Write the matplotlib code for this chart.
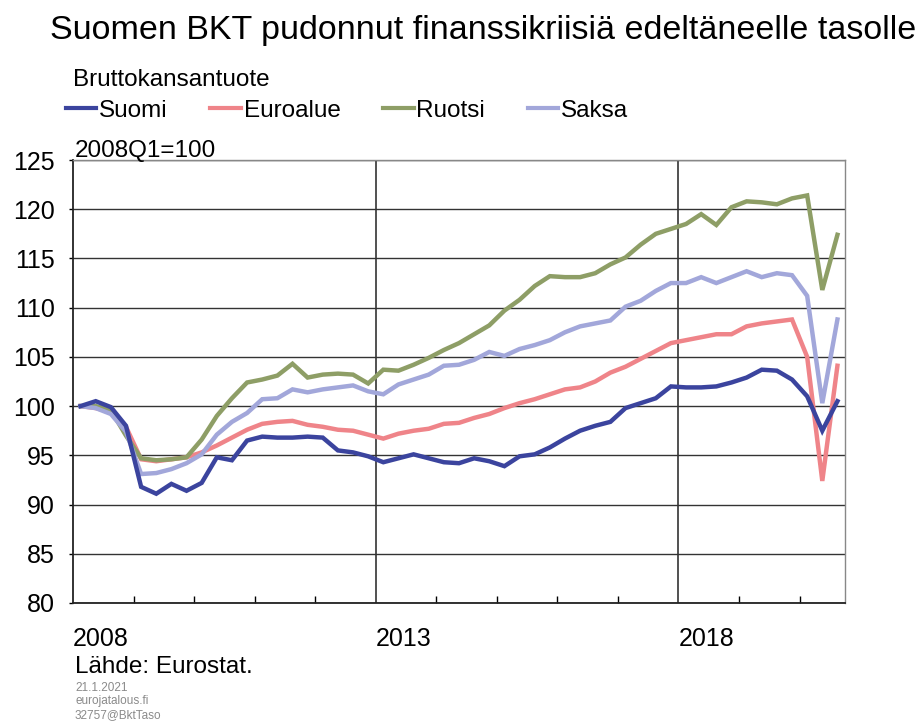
import matplotlib
matplotlib.use("Agg")
import matplotlib.pyplot as plt
from matplotlib.lines import Line2D
from matplotlib.ticker import MultipleLocator, FixedLocator

plt.rcParams['font.family'] = ['Liberation Sans', 'DejaVu Sans']

# Quarterly GDP index, 2008Q1 = 100 (2008Q1 ... 2020Q3)
quarters = [f"{y}Q{q}" for y in range(2008, 2021) for q in range(1, 5)][:51]

suomi = [100.0, 100.5, 99.9, 98.0, 91.8, 91.1, 92.1, 91.4, 92.2, 94.8,
         94.5, 96.5, 96.9, 96.8, 96.8, 96.9, 96.8, 95.5, 95.3, 94.9,
         94.3, 94.7, 95.1, 94.7, 94.3, 94.2, 94.7, 94.4, 93.9, 94.9,
         95.1, 95.8, 96.7, 97.5, 98.0, 98.4, 99.8, 100.3, 100.8, 102.0,
         101.9, 101.9, 102.0, 102.4, 102.9, 103.7, 103.6, 102.7, 101.0, 97.5,
         100.5]
euroalue = [100.0, 99.8, 99.4, 97.9, 94.6, 94.4, 94.6, 94.8, 95.3, 96.0,
            96.8, 97.6, 98.2, 98.4, 98.5, 98.1, 97.9, 97.6, 97.5, 97.1,
            96.7, 97.2, 97.5, 97.7, 98.2, 98.3, 98.8, 99.2, 99.8, 100.3,
            100.7, 101.2, 101.7, 101.9, 102.5, 103.4, 104.0, 104.8, 105.6, 106.4,
            106.7, 107.0, 107.3, 107.3, 108.1, 108.4, 108.6, 108.8, 105.0, 92.4,
            104.1]
ruotsi = [100.0, 100.0, 99.6, 97.0, 94.7, 94.5, 94.6, 94.8, 96.6, 99.0,
          100.8, 102.4, 102.7, 103.1, 104.3, 102.9, 103.2, 103.3, 103.2, 102.3,
          103.7, 103.6, 104.2, 104.9, 105.7, 106.4, 107.3, 108.2, 109.7, 110.8,
          112.2, 113.2, 113.1, 113.1, 113.5, 114.4, 115.1, 116.4, 117.5, 118.0,
          118.5, 119.5, 118.4, 120.2, 120.8, 120.7, 120.5, 121.1, 121.4, 111.8,
          117.4]
saksa = [100.0, 99.8, 99.2, 97.4, 93.1, 93.2, 93.6, 94.2, 95.1, 97.1,
         98.4, 99.3, 100.7, 100.8, 101.7, 101.4, 101.7, 101.9, 102.1, 101.5,
         101.2, 102.2, 102.7, 103.2, 104.1, 104.2, 104.7, 105.5, 105.1, 105.8,
         106.2, 106.7, 107.5, 108.1, 108.4, 108.7, 110.1, 110.7, 111.7, 112.5,
         112.5, 113.1, 112.5, 113.1, 113.7, 113.1, 113.5, 113.3, 111.2, 100.3,
         108.8]

series_names = ["Suomi", "Euroalue", "Ruotsi", "Saksa"]
colors = ["#3B449E", "#EF8489", "#8E9E66", "#A2A7DA"]
year_labels = ["2008", "2013", "2018"]

fig = plt.figure(figsize=(9.21, 7.22), dpi=100)
ax = fig.add_axes([73 / 921, 1 - 603 / 722, (845 - 73) / 921, (603 - 160) / 722])

x = list(range(len(quarters)))
all_series = [suomi, euroalue, ruotsi, saksa]
zorders = [6, 3, 4, 5]
for vals, c, name, z in zip(all_series, colors, series_names, zorders):
    ax.plot(x, vals, color=c, lw=3.2, label=name, zorder=z, solid_joinstyle='miter')

ax.set_xlim(-0.5, len(quarters) - 0.5)
ax.set_ylim(80, 125)
ax.yaxis.set_major_locator(MultipleLocator(5))
ax.tick_params(axis='y', labelsize=18, length=3, width=1, direction='out', pad=10)
ax.grid(axis='y', color='#333333', lw=1)

# year boundaries: labels every 5 years, small ticks every year
year_starts = [i - 0.5 for i in range(0, len(quarters), 4)]
ax.set_xticks([-0.5, 19.5, 39.5])
ax.set_xticklabels(year_labels, fontsize=18, ha='left')
ax.xaxis.set_minor_locator(FixedLocator(year_starts))
ax.tick_params(axis='x', which='major', length=0, pad=17)
ax.tick_params(axis='x', which='minor', length=5, width=1, direction='in')
for xv in [19.5, 39.5]:
    ax.axvline(xv, color='#222222', lw=1.1, zorder=1)

for side in ['left', 'bottom']:
    ax.spines[side].set_color('#222222')
    ax.spines[side].set_linewidth(1.3)
for side in ['top', 'right']:
    ax.spines[side].set_color('#888888')
    ax.spines[side].set_linewidth(1.0)

# texts
fig.text(50 / 921, 1 - 39 / 722, "Suomen BKT pudonnut finanssikriisiä edeltäneelle tasolle",
         fontsize=24.5, ha='left', va='baseline')
fig.text(73 / 921, 1 - 86 / 722, "Bruttokansantuote", fontsize=17.5, ha='left', va='baseline')
fig.text(75 / 921, 1 - 157 / 722, "2008Q1=100", fontsize=17.5, ha='left', va='baseline')

handles = [Line2D([0], [0], color=c, lw=3) for c in colors]
fig.legend(handles, series_names, loc='lower left', bbox_to_anchor=(66 / 921, 1 - 122 / 722),
           ncol=4, frameon=False, fontsize=17.5, handlelength=1.25, handletextpad=0.12,
           columnspacing=1.75, borderpad=0, borderaxespad=0)

fig.text(75 / 921, 1 - 673 / 722, "Lähde: Eurostat.", fontsize=17.5, ha='left', va='baseline')
small = ["21.1.2021", "eurojatalous.fi", "32757@BktTaso"]
for txt, yb in zip(small, [691, 704, 718]):
    fig.text(75 / 921, 1 - yb / 722, txt, fontsize=8.5, color='#8a8a8a', ha='left', va='baseline')

fig.savefig("out.png", dpi=100)
